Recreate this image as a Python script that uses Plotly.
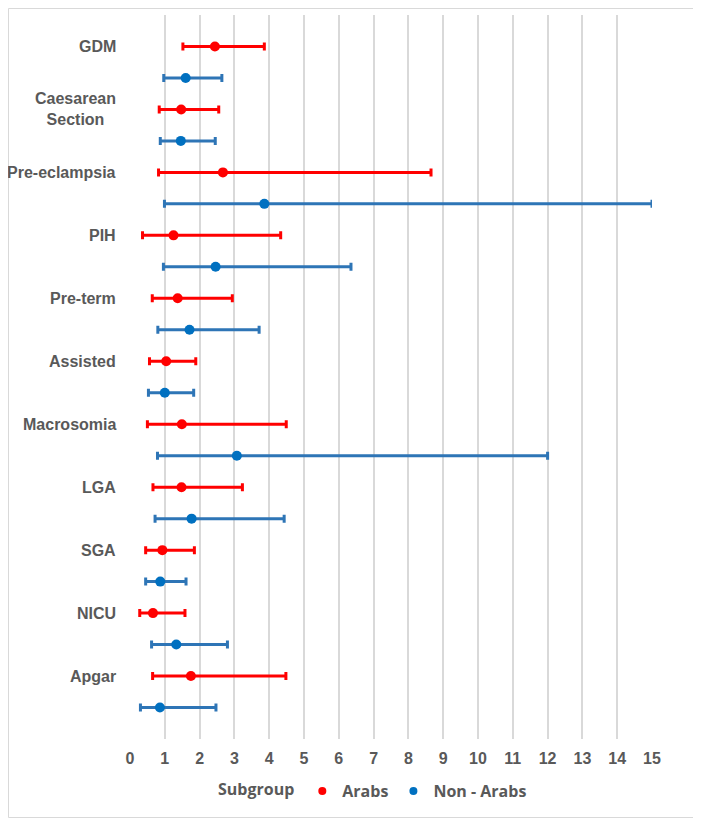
import plotly.graph_objects as go

categories = ["GDM", "Caesarean<br>Section", "Pre-eclampsia", "PIH", "Pre-term",
              "Assisted", "Macrosomia", "LGA", "SGA", "NICU", "Apgar"]
arabs_or = [2.44, 1.47, 2.67, 1.25, 1.37, 1.04, 1.49, 1.48, 0.93, 0.66, 1.75]
arabs_lo = [1.52, 0.84, 0.82, 0.36, 0.64, 0.56, 0.50, 0.66, 0.45, 0.28, 0.65]
arabs_hi = [3.86, 2.55, 8.65, 4.33, 2.94, 1.89, 4.49, 3.23, 1.85, 1.58, 4.48]
non_or = [1.60, 1.46, 3.86, 2.46, 1.71, 1.00, 3.07, 1.77, 0.87, 1.33, 0.86]
non_lo = [0.97, 0.87, 0.99, 0.96, 0.80, 0.53, 0.79, 0.72, 0.45, 0.62, 0.30]
non_hi = [2.64, 2.45, 15.0, 6.35, 3.71, 1.83, 12.0, 4.43, 1.61, 2.80, 2.47]
x_ticks = list(range(0, 16))

RED = "#FF0000"
BLUE_M = "#0070C0"
BLUE_L = "#2E75B6"
GRAY = "#595959"
LABEL_FONT = "Liberation Sans, Arial, sans-serif"
LEGEND_FONT = "Open Sans, sans-serif"

n = len(categories)
y_arabs = [2 * i for i in range(n)]
y_non = [2 * i + 1 for i in range(n)]

fig = go.Figure()

fig.add_trace(go.Scatter(
    x=arabs_or, y=y_arabs, mode="markers", name="Arabs", showlegend=False,
    marker=dict(color=RED, size=10),
    error_x=dict(type="data", symmetric=False,
                 array=[h - o for h, o in zip(arabs_hi, arabs_or)],
                 arrayminus=[o - l for o, l in zip(arabs_or, arabs_lo)],
                 color=RED, thickness=3, width=4),
))
fig.add_trace(go.Scatter(
    x=non_or, y=y_non, mode="markers", name="Non - Arabs", showlegend=False,
    marker=dict(color=BLUE_M, size=10),
    error_x=dict(type="data", symmetric=False,
                 array=[h - o for h, o in zip(non_hi, non_or)],
                 arrayminus=[o - l for o, l in zip(non_or, non_lo)],
                 color=BLUE_L, thickness=3, width=4),
))
# legend-only entries with small dots
fig.add_trace(go.Scatter(x=[None], y=[None], mode="markers", name="Arabs",
                         marker=dict(color=RED, size=8)))
fig.add_trace(go.Scatter(x=[None], y=[None], mode="markers", name="Non - Arabs",
                         marker=dict(color=BLUE_M, size=8)))

for cat, yv in zip(categories, y_arabs):
    fig.add_annotation(
        x=0, xref="paper", y=yv, yref="y", text=cat, showarrow=False,
        xanchor="right", yanchor="middle", xshift=-12, align="center",
        font=dict(family=LABEL_FONT, size=16, color=GRAY, weight="bold"),
    )

# page body has an 8px default margin: compensate so the plot lands where the
# reference has it inside the 701x818 window
OFF = 8
W, H = 701 - OFF, 818 - OFF
ml, mt = 130 - OFF, 15 - OFF
pw, ph = 522, 724
mr, mb = W - ml - pw, H - mt - ph

# outer chart border
fig.add_shape(type="rect", xref="paper", yref="paper",
              x0=-(ml - 0.5) / pw, x1=(W - ml - 0.5) / pw,
              y0=-(mb - 0.5) / ph, y1=(ph + mt - 0.5) / ph,
              line=dict(color="#D9D9D9", width=1), layer="below")

fig.update_layout(
    width=W, height=H,
    margin=dict(l=ml, r=mr, t=mt, b=mb, autoexpand=False),
    paper_bgcolor="white", plot_bgcolor="white",
    xaxis=dict(range=[0, 15], tickvals=x_ticks, showgrid=True,
               gridcolor="#D9D9D9", gridwidth=2, zeroline=False, showline=False,
               ticks="", ticklabelstandoff=8,
               tickfont=dict(family=LABEL_FONT, size=16, color=GRAY, weight="bold")),
    yaxis=dict(range=[22, -1], showgrid=False, zeroline=False, showline=False,
               showticklabels=False, ticks=""),
    legend=dict(orientation="h", x=(216 - 130) / pw, xanchor="left",
                y=-(791 - 739) / ph, yanchor="middle",
                title=dict(text="Subgroup", side="left",
                           font=dict(family=LEGEND_FONT, size=16,
                                     color=GRAY, weight="bold")),
                font=dict(family=LEGEND_FONT, size=16, color=GRAY, weight="bold"),
                itemwidth=30, bgcolor="rgba(0,0,0,0)"),
)

fig.write_html("out.html")
